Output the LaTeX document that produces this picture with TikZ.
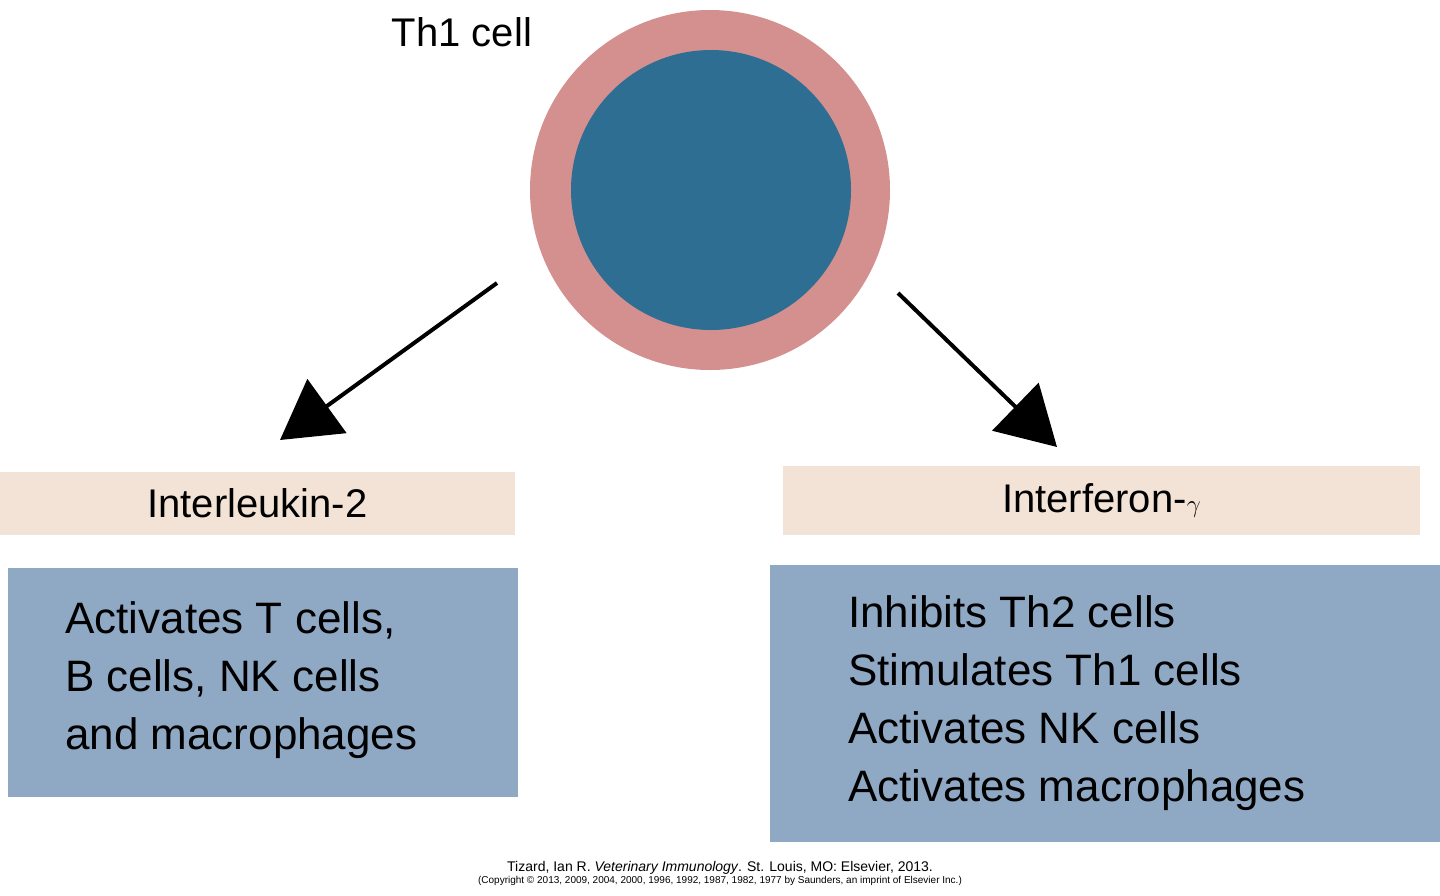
\documentclass[tikz,border=0pt]{standalone}
\usepackage{fontspec}
\setmainfont{Liberation Sans}
\usetikzlibrary{positioning,arrows.meta}
\definecolor{ring}{HTML}{D4908E}
\definecolor{core}{HTML}{2E6E93}
\definecolor{tag}{HTML}{F3E3D6}
\definecolor{panel}{HTML}{8FA9C5}
\tikzset{tagbox/.style={fill=tag,inner sep=0pt,node font=\fontsize{40}{46}\selectfont}}
\tikzset{panelbox/.style={fill=panel,inner sep=0pt}}
\tikzset{txt/.style={anchor=west,align=left,inner sep=0pt,node font=\fontsize{44}{58}\selectfont}}
\tikzset{arrow/.style={-{Triangle[length=58pt,width=66pt]},line width=4pt}}
\begin{document}
\begin{tikzpicture}[x=1pt,y=-1pt]
        \useasboundingbox (0,0) rectangle (1440,895);
        \node (cell) [circle,fill=ring,minimum size=360pt,inner sep=0pt] at (710,190) {};
        \node (nuc) [circle,fill=core,minimum size=280pt,inner sep=0pt] at (711,190) {};
        \node (th1) at (462,32) {\fontsize{40}{46}\selectfont Th1 cell};
        \node (il2) [tagbox,minimum width=515pt,minimum height=63pt] at (257.5,503.5) {Interleukin-2};
        \node (ifn) [tagbox,minimum width=637pt,minimum height=69pt] at (1101.5,500.5) {Interferon-$\gamma$};
        \node (p1) [panelbox,minimum width=510pt,minimum height=229pt] at (263,682.5) {};
        \node (p2) [panelbox,minimum width=670pt,minimum height=277pt] at (1105,703.5) {};
        \node (t1) [txt] at (65,680) {Activates T cells,\\B cells, NK cells\\and macrophages};
        \node (t2) [txt] at (848,703) {Inhibits Th2 cells\\Stimulates Th1 cells\\Activates NK cells\\Activates macrophages};
        \coordinate (a1) at (497,283);
        \coordinate (b1) at (280,440);
        \coordinate (a2) at (898,293);
        \coordinate (b2) at (1057,447);
        \draw[arrow] (a1) -- (b1);
        \draw[arrow] (a2) -- (b2);
        \node (cap) [align=center,inner sep=0pt] at (720,873) {\fontsize{14}{22}\selectfont Tizard, Ian R. \textit{Veterinary Immunology}. St. Louis, MO: Elsevier, 2013.\\(Copyright \textcopyright\ 2013, 2009, 2004, 2000, 1996, 1992, 1987, 1982, 1977 by Saunders, an imprint of Elsevier Inc.)};
\end{tikzpicture}
\end{document}
